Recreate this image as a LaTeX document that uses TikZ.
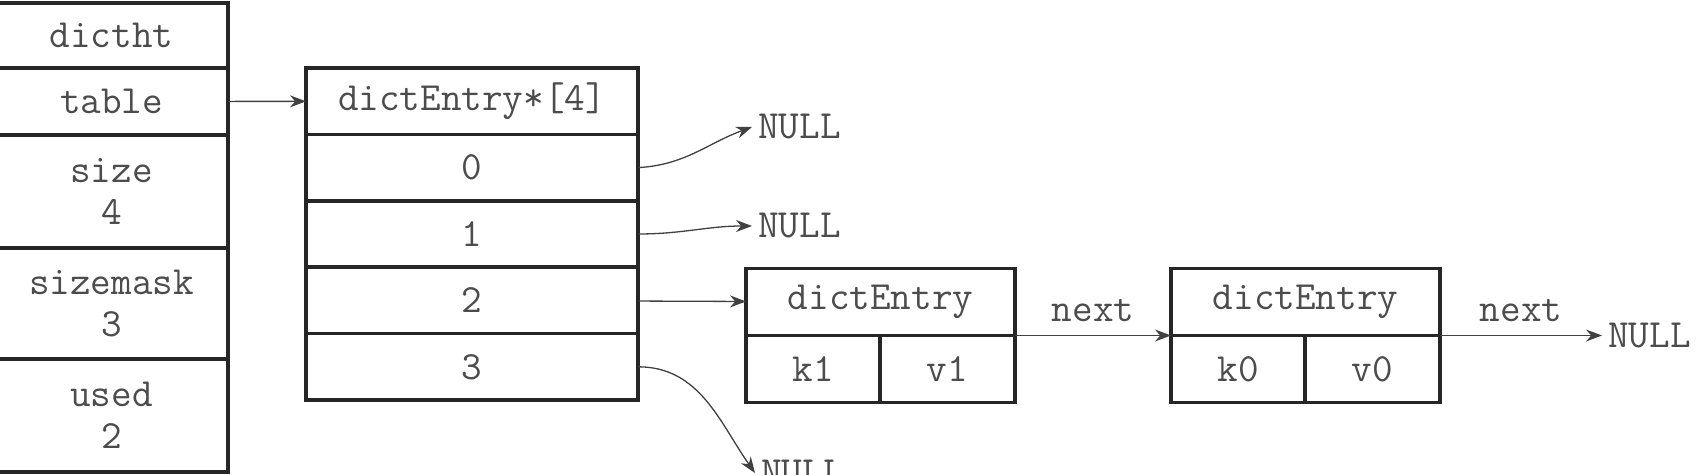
\documentclass[tikz,border=0pt]{standalone}
\usetikzlibrary{positioning, arrows.meta}
\tikzset{
	cell/.style={
		draw=black!85,
		line width=3.5pt,
		outer sep=0pt,
		inner sep=0pt,
		align=center,
		text=black!70,
		font={\fontsize{40}{42}\selectfont\ttfamily}
	},
	htcell/.style={
		cell,
		minimum width=233pt
	},
	arrcell/.style={
		cell,
		minimum width=332pt,
		minimum height=66.4pt
	},
	entcell/.style={
		cell,
		minimum height=67pt
	},
	nullnode/.style={
		anchor=west,
		inner sep=6pt,
		text=black!70,
		font={\fontsize{40}{42}\selectfont\ttfamily}
	},
	lbl/.style={
		inner sep=3pt,
		text=black!70,
		font={\fontsize{40}{42}\selectfont\ttfamily}
	},
	link/.style={
		-{Stealth[length=16pt,width=12pt]},
		line width=1.3pt,
		draw=black!75
	}
}

\begin{document}
\begin{tikzpicture}[x=1pt,y=-1pt]
\useasboundingbox (0,0) rectangle (1708,474);

% dictht
\node[htcell, minimum height=65pt] (ht) at (111.5,35.5) {dictht};
\node[htcell, minimum height=67pt, below=0pt of ht] (tbl) {table};
\node[htcell, minimum height=113pt, below=0pt of tbl] (size) {size\\4};
\node[htcell, minimum height=111pt, below=0pt of size] (mask) {sizemask\\3};
\node[htcell, minimum height=113pt, below=0pt of mask] (used) {used\\2};

% table array
\node[arrcell] (arr) at (472,101.2) {dictEntry*[4]};
\node[arrcell, below=0pt of arr] (r0) {0};
\node[arrcell, below=0pt of r0] (r1) {1};
\node[arrcell, below=0pt of r1] (r2) {2};
\node[arrcell, below=0pt of r2] (r3) {3};

% entries
\node[entcell, minimum width=269pt] (ea) at (880.5,302) {dictEntry};
\node[entcell, minimum width=134pt, below right=0pt of ea.south west] (ka) {k1};
\node[entcell, minimum width=135pt, right=0pt of ka] (va) {v1};

\node[entcell, minimum width=269pt] (eb) at (1305.5,302) {dictEntry};
\node[entcell, minimum width=134pt, below right=0pt of eb.south west] (kb) {k0};
\node[entcell, minimum width=135pt, right=0pt of kb] (vb) {v0};

% NULLs
\node[nullnode] (n0) at (752,127) {NULL};
\node[nullnode] (n1) at (752,226) {NULL};
\node[nullnode] (n3) at (755,473) {NULL};
\node[nullnode] (nb) at (1602,335.5) {NULL};

\draw[link] (tbl) -- (arr);
\draw[link] (r0.east) to[out=3,in=200] (n0.west);
\draw[link] (r1.east) to[out=0,in=180] (n1.west);
\draw[link] (r2) -- (ea);
\draw[link] (r3.east) to[out=0,in=125] (n3.west);
\draw[link] (ea.south east) -- node[lbl, above=10pt]{next} (eb.south west);
\draw[link] (eb.south east) -- node[lbl, above=10pt]{next} (nb.west);
\end{tikzpicture}
\end{document}
